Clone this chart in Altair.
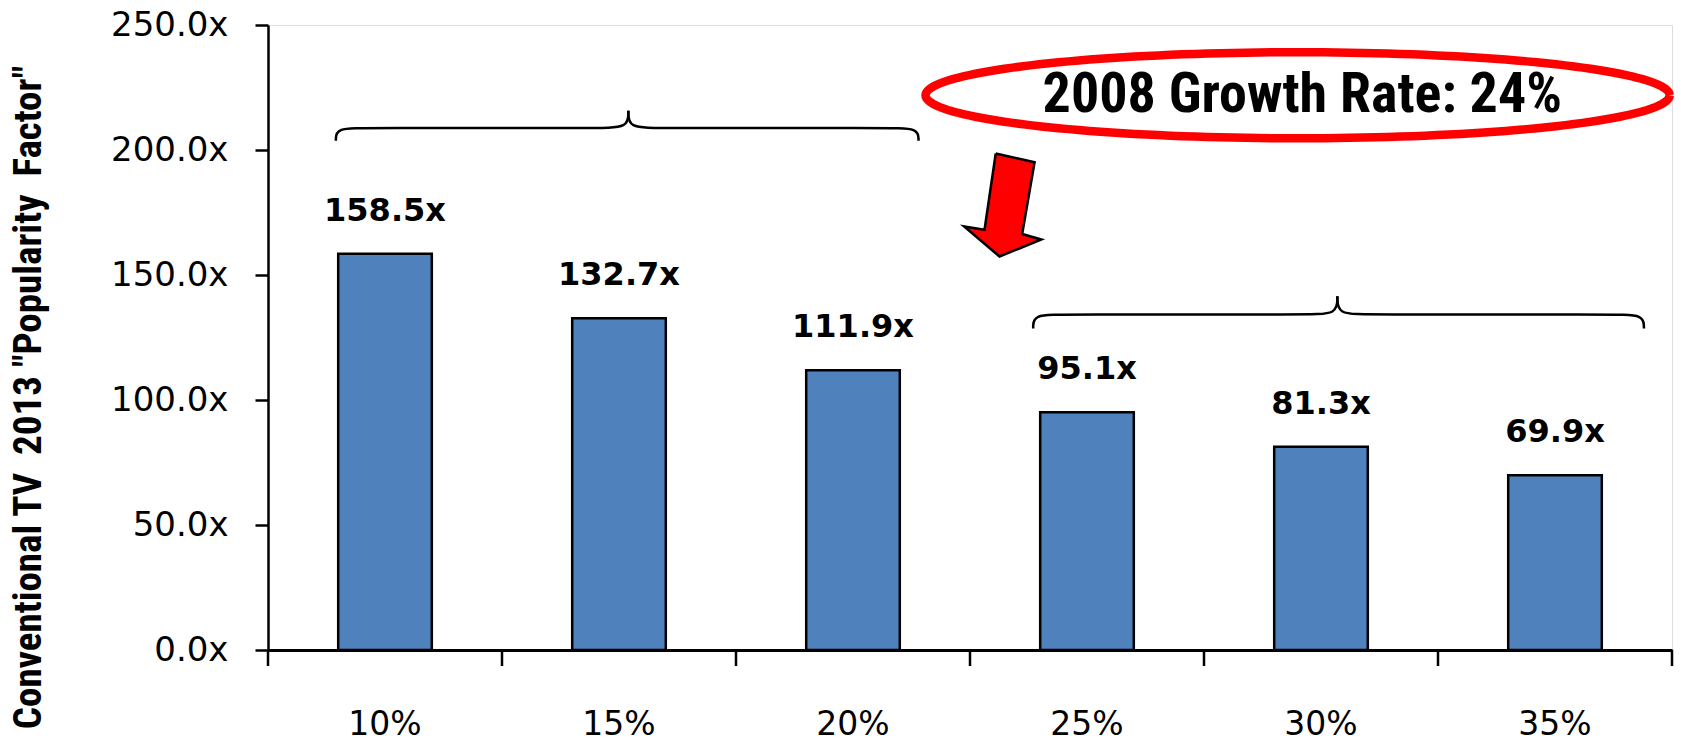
import altair as alt
import numpy as np
import pandas as pd

# ---- chart values -------------------------------------------------------
growth_rates = ["10%", "15%", "20%", "25%", "30%", "35%"]
popularity = [158.5, 132.7, 111.9, 95.1, 81.3, 69.9]
y_ticks = [0, 50, 100, 150, 200, 250]

callout_text = ["2008 Growth Rate: 24%"]
y_title = "Conventional TV\u00a0 2013 \"Popularity\u00a0 Factor\""

# brace spans in category-index units (0..6) and value units
brace_x0 = [0.29, 3.27]
brace_x1 = [2.78, 5.88]
brace_mid = [1.54, 4.57]
brace_end_y = [203.7, 128.6]
brace_flat_y = [208.8, 134.2]
brace_tip_y = [215.7, 141.5]

# arrow outline (index units, value units)
arrow_x = [3.110, 3.276, 3.223, 3.305, 3.126, 2.975, 3.062, 3.110]
arrow_y = [198.6, 195.1, 166.4, 164.2, 157.4, 169.4, 168.1, 198.6]

# callout ellipse: centre and radii
ellipse_cx, ellipse_cy = 4.40, 221.9
ellipse_rx, ellipse_ry = 1.59, 17.2

N = len(growth_rates)
W, H = 1404, 625
BAR_BLUE = "#4F81BD"
NARROW = "Liberation Sans Narrow, Arial Narrow, Roboto Condensed, sans-serif"
BASE = "DejaVu Sans, Verdana, sans-serif"

bars_df = pd.DataFrame({"rate": growth_rates, "factor": popularity})
bars_df["label"] = [f"{v:.1f}x" for v in popularity]

# brace paths: each half runs from an end curl to the centre tip
rows = []
for b in range(len(brace_x0)):
    x0, x1, xm = brace_x0[b], brace_x1[b], brace_mid[b]
    ye, yf, yt = brace_end_y[b], brace_flat_y[b], brace_tip_y[b]
    c = 0.13
    halves = [
        [(x0, ye), (x0, yf), (x0 + c, yf), (xm - c, yf), (xm, yf), (xm, yt)],
        [(x1, ye), (x1, yf), (x1 - c, yf), (xm + c, yf), (xm, yf), (xm, yt)],
    ]
    for h, pts in enumerate(halves):
        for i, (px, py) in enumerate(pts):
            rows.append({"seg": f"{b}-{h}", "i": i, "px": px, "py": py})
brace_df = pd.DataFrame(rows)

arrow_df = pd.DataFrame({"i": range(len(arrow_x)), "px": arrow_x, "py": arrow_y})

t = np.linspace(0, 2 * np.pi, 181)
ellipse_df = pd.DataFrame({
    "i": range(len(t)),
    "px": ellipse_cx + ellipse_rx * np.cos(t),
    "py": ellipse_cy + ellipse_ry * np.sin(t),
})

text_df = pd.DataFrame({"px": [ellipse_cx + 0.02], "py": [ellipse_cy], "txt": callout_text})
tick_df = pd.DataFrame({"px": list(range(N + 1))})

y_scale = alt.Scale(domain=[0, 250], nice=False, zero=True)
pos_scale = alt.Scale(domain=[0, N], nice=False, zero=False)

x_band = alt.X(
    "rate:N",
    sort=growth_rates,
    scale=alt.Scale(paddingInner=0.6, paddingOuter=0.3),
    axis=alt.Axis(
        title=None, ticks=False, labelAngle=0,
        labelFont=BASE, labelFontSize=33, labelColor="black",
        labelPadding=58, labelBaseline="top",
        domainColor="black", domainWidth=3,
    ),
)

bars = alt.Chart(bars_df).mark_bar(
    color=BAR_BLUE, stroke="black", strokeWidth=2.5
).encode(
    x=x_band,
    y=alt.Y(
        "factor:Q",
        scale=y_scale,
        axis=alt.Axis(
            values=y_ticks, grid=False,
            labelExpr="format(datum.value, '.1f') + 'x'",
            labelFont=BASE, labelFontSize=34, labelColor="black",
            labelPadding=27, tickSize=13, tickColor="black", tickWidth=2.5,
            domainColor="black", domainWidth=2.5,
            title=y_title,
            titleFont=NARROW, titleFontSize=39, titleFontWeight="bold",
            titleColor="black", titleAngle=270,
            titleX=-240, titleY=372, titleAlign="center", titleBaseline="middle",
        ),
    ),
)

labels = alt.Chart(bars_df).mark_text(
    font=BASE, fontSize=32, fontWeight="bold", color="black",
    baseline="alphabetic", dy=-33,
).encode(
    x=alt.X("rate:N", sort=growth_rates, axis=None),
    y=alt.Y("factor:Q", scale=y_scale),
    text="label:N",
)

px = alt.X("px:Q", scale=pos_scale, axis=None)
py = alt.Y("py:Q", scale=y_scale)

braces = alt.Chart(brace_df).mark_line(
    color="black", strokeWidth=2.5, interpolate="basis"
).encode(x=px, y=py, detail="seg:N", order="i:Q")

arrow = alt.Chart(arrow_df).mark_line(
    fill="#FF0000", stroke="black", strokeWidth=2.5, strokeJoin="miter"
).encode(x=px, y=py, order="i:Q")

ellipse = alt.Chart(ellipse_df).mark_line(
    color="#FF0000", strokeWidth=8.5
).encode(x=px, y=py, order="i:Q")

callout = alt.Chart(text_df).mark_text(
    font=NARROW, fontSize=56, fontWeight="bold", color="black", baseline="middle"
).encode(x=px, y=py, text="txt:N")

x_ticks = alt.Chart(tick_df).mark_rule(color="black", strokeWidth=2.5).encode(
    x=px, y=alt.value(H), y2=alt.value(H + 16)
)

chart = alt.layer(
    bars, labels, x_ticks, braces, ellipse, arrow, callout
).resolve_scale(x="independent").properties(
    width=W, height=H,
    autosize=alt.AutoSizeParams(type="none"),
    padding={"left": 268, "top": 25, "right": 9, "bottom": 94},
).configure_view(stroke=None).configure(background="white")

chart.save("out.html", embed_options={"renderer": "svg", "actions": False})
